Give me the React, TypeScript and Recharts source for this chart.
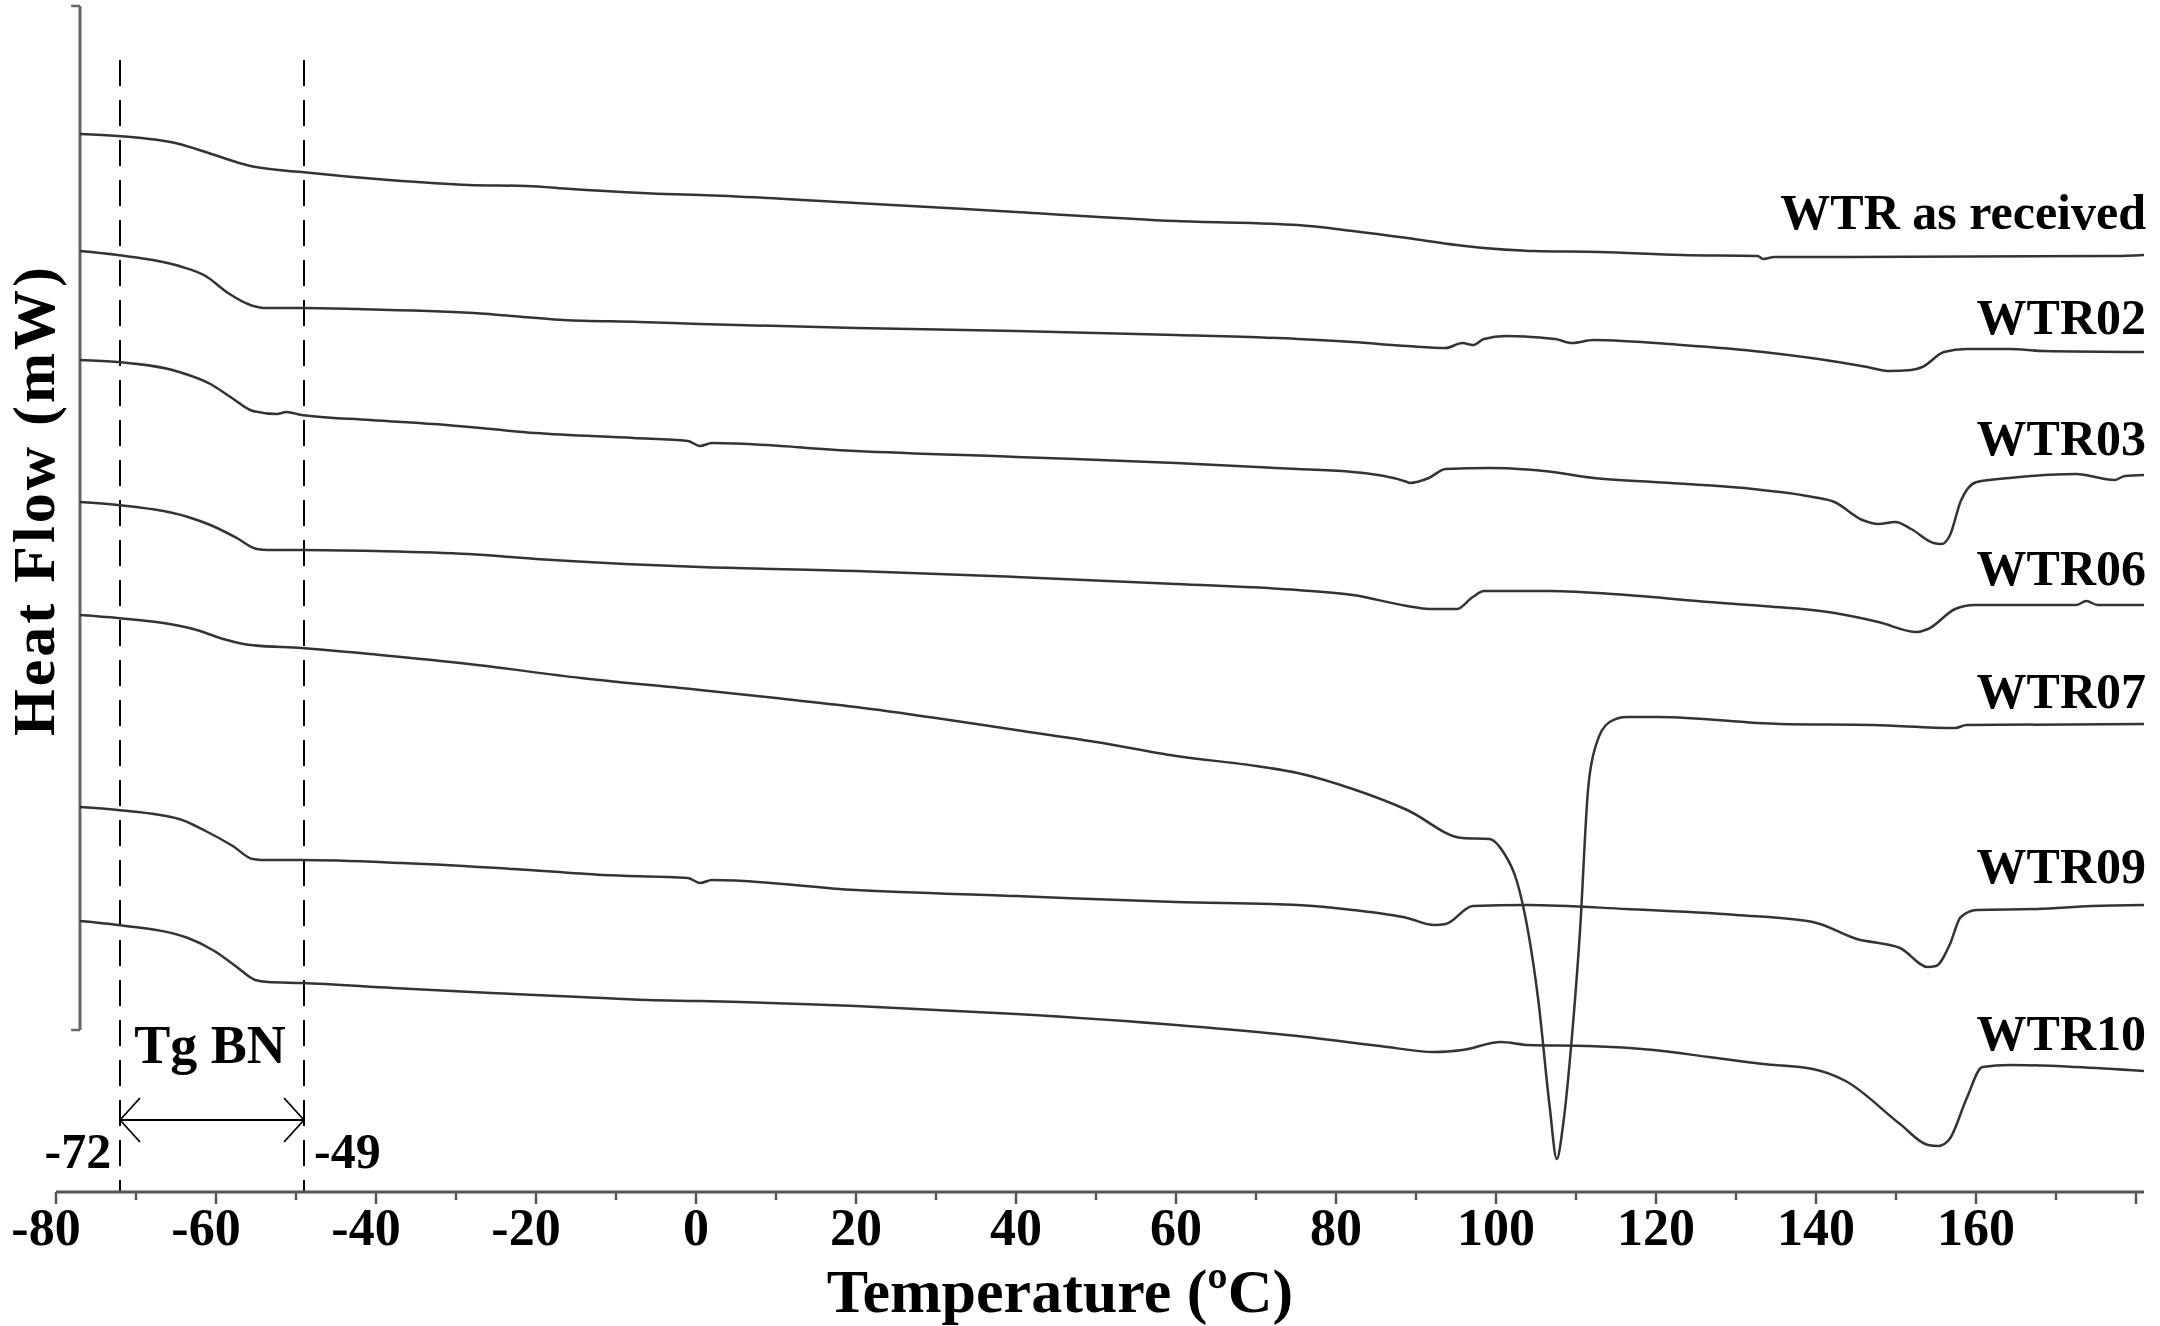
import React from 'react';
import { LineChart, Line, XAxis, YAxis, ReferenceLine, ReferenceDot } from 'recharts';

type Pt = [number, number];

// temperature (ºC), heat flow (mW, curves stacked with offsets)
const wtrAsReceived: Pt[] = [
  [-77, 10.58], [-72.3, 10.56], [-64.6, 10.48], [-61.3, 10.4], [-57.9, 10.31], [-55.7, 10.26],
  [-49.3, 10.2], [-38.4, 10.12], [-28.4, 10.07], [-21.2, 10.06], [-15.6, 10.03], [-3.9, 9.98],
  [0.5, 9.97], [20, 9.89], [40, 9.8], [60, 9.71], [75.2, 9.67], [82.1, 9.61], [88.9, 9.54],
  [95.1, 9.47], [98.5, 9.44], [104.7, 9.41], [112.9, 9.4], [123.2, 9.37], [132.7, 9.36],
  [133.4, 9.33], [134.8, 9.35], [143.7, 9.35], [177.3, 9.36], [181, 9.37],
];
const wtr02: Pt[] = [
  [-77, 9.41], [-72.3, 9.37], [-64.6, 9.26], [-61.3, 9.16], [-58.5, 8.99], [-55.7, 8.87],
  [-54, 8.84], [-49.3, 8.84], [-42.3, 8.83], [-27.8, 8.79], [-16.6, 8.72], [-7.1, 8.7],
  [0.5, 8.68], [20, 8.64], [40, 8.61], [60, 8.57], [75.2, 8.53], [82.1, 8.5], [88.9, 8.46],
  [93.7, 8.44], [95.8, 8.49], [97.1, 8.47], [98.5, 8.53], [101.2, 8.56], [107.4, 8.53],
  [109.5, 8.49], [112.2, 8.52], [123.2, 8.47], [133.4, 8.4], [140.3, 8.33], [146.4, 8.25],
  [149.2, 8.21], [151.9, 8.22], [153.3, 8.25], [156, 8.4], [158.8, 8.43], [164.2, 8.43],
  [168.4, 8.41], [181, 8.4],
];
const wtr03: Pt[] = [
  [-77, 8.32], [-72.3, 8.3], [-64.6, 8.2], [-60.7, 8.08], [-58, 7.94], [-55.4, 7.81],
  [-52.4, 7.78], [-51.2, 7.8], [-49.3, 7.77], [-40.7, 7.72], [-31.2, 7.67], [-20.1, 7.59],
  [-7.8, 7.54], [-1, 7.51], [0.5, 7.46], [2, 7.49], [20, 7.41], [40, 7.35], [60, 7.29],
  [75.2, 7.23], [82.1, 7.2], [88.9, 7.1], [89.2, 7.09], [91.6, 7.14], [93.7, 7.23],
  [99.2, 7.24], [106, 7.21], [112.2, 7.14], [119.7, 7.1], [125.9, 7.07], [132.1, 7.03],
  [139.6, 6.95], [142.3, 6.9], [145.8, 6.72], [147.8, 6.68], [149.9, 6.7], [151.9, 6.63],
  [154.7, 6.49], [155.7, 6.48], [156.7, 6.56], [158.1, 6.91], [160.1, 7.1], [164.2, 7.14],
  [172.5, 7.18], [177.3, 7.12], [178.6, 7.16], [181, 7.17],
];
const wtr06: Pt[] = [
  [-77, 6.9], [-72.3, 6.87], [-63.5, 6.75], [-60.7, 6.67], [-57.4, 6.54], [-54.9, 6.43],
  [-53.5, 6.42], [-49.3, 6.42], [-40.1, 6.41], [-28.4, 6.38], [-20, 6.33], [-8.9, 6.28],
  [0.5, 6.25], [20, 6.21], [40, 6.15], [60, 6.08], [75.2, 6.02], [82.1, 5.97], [88.9, 5.86],
  [91.6, 5.83], [95.1, 5.83], [97.1, 5.95], [98.5, 6.01], [106.7, 6.01], [116.3, 5.97],
  [126.6, 5.9], [133.4, 5.86], [142.3, 5.79], [147.8, 5.7], [152.6, 5.6], [154, 5.63],
  [157.4, 5.83], [159.8, 5.87], [172.5, 5.87], [173.8, 5.91], [175.2, 5.87], [181, 5.87],
];
const wtr07: Pt[] = [
  [-77, 5.77], [-72.3, 5.74], [-65.8, 5.68], [-62.4, 5.62], [-59.1, 5.53], [-55.7, 5.47],
  [-49.3, 5.44], [-39.5, 5.37], [-28.4, 5.28], [-14.4, 5.14], [0.5, 5.02], [10, 4.94],
  [20, 4.85], [30, 4.74], [40, 4.62], [50, 4.5], [60, 4.36], [70, 4.26], [75.2, 4.19],
  [82.1, 4.03], [88.9, 3.82], [95.8, 3.54], [99.2, 3.53], [100.9, 3.4], [102.6, 3.11],
  [104, 2.61], [105.3, 1.91], [106.7, 0.86], [107.6, 0.33], [108.4, 0.68], [109.5, 1.56],
  [110.5, 2.61], [111.5, 4.02], [112.5, 4.47], [114.2, 4.7], [116.3, 4.75], [120.4, 4.75],
  [135.5, 4.68], [147.1, 4.67], [157.4, 4.64], [158.8, 4.67], [181, 4.68],
];
const wtr09: Pt[] = [
  [-77, 3.85], [-72.3, 3.82], [-64.6, 3.73], [-61.3, 3.61], [-57.9, 3.46], [-55.4, 3.33],
  [-53.5, 3.32], [-49.3, 3.32], [-36.8, 3.29], [-22.8, 3.23], [-11.7, 3.17], [-1, 3.14],
  [0.5, 3.09], [2, 3.12], [20, 3.02], [40, 2.96], [60, 2.9], [75.2, 2.87], [82.1, 2.82],
  [88.9, 2.74], [92.3, 2.67], [93.7, 2.68], [97.1, 2.86], [104, 2.87], [116.3, 2.83],
  [130, 2.77], [139.6, 2.7], [145.1, 2.53], [150.5, 2.44], [154, 2.25], [155, 2.26],
  [156.7, 2.47], [158.1, 2.75], [160.1, 2.82], [167.7, 2.83], [174.5, 2.86], [181, 2.87],
];
const wtr10: Pt[] = [
  [-77, 2.71], [-72.3, 2.67], [-63.5, 2.54], [-60.2, 2.41], [-57.4, 2.25], [-55.1, 2.12],
  [-53.5, 2.1], [-49.3, 2.09], [-37.9, 2.04], [-25.6, 1.99], [-14.4, 1.95], [-6.1, 1.92],
  [0.5, 1.91], [20, 1.86], [40, 1.78], [60, 1.67], [75.2, 1.56], [85.5, 1.46], [92.3, 1.4],
  [95.8, 1.42], [100.6, 1.5], [104, 1.47], [111.5, 1.46], [119.7, 1.42], [126.6, 1.35],
  [133.4, 1.28], [139.6, 1.23], [143.7, 1.11], [150.5, 0.68], [154, 0.47], [155.3, 0.46],
  [156.7, 0.53], [158.8, 0.93], [160.8, 1.25], [164.2, 1.27], [172.5, 1.25], [181, 1.21],
];

const seriesNames = ['WTR as received', 'WTR02', 'WTR03', 'WTR06', 'WTR07', 'WTR09', 'WTR10'];
const seriesValues = [wtrAsReceived, wtr02, wtr03, wtr06, wtr07, wtr09, wtr10];
const labelLevels = [9.63, 8.58, 7.37, 6.07, 4.84, 3.09, 1.42];

const xTicks = [-80, -70, -60, -50, -40, -30, -20, -10, 0, 10, 20, 30, 40, 50, 60, 70, 80, 90, 100, 110, 120, 130, 140, 150, 160, 170, 180];
const tgOnset = -72;
const tgEnd = -49;

const FONT = '"Liberation Serif", "Times New Roman", serif';
const INK = '#000';
const AXIS = '#555';
const CURVE = '#333';

const series = seriesValues.map((pts) => pts.map(([t, hf]) => ({ t, hf })));

const TempTick = (props: any) => {
  const { x, y, payload } = props;
  const v = payload.value;
  const major = v % 20 === 0;
  return (
    <g>
      <line x1={x} x2={x} y1={y} y2={y + (major ? 12 : 8)} stroke={AXIS} strokeWidth={2.5} />
      {major && v <= 160 && (
        <text x={x + (v < 0 ? -10 : 0)} y={y + 53} textAnchor="middle" fontFamily={FONT} fontWeight="bold" fontSize={52} fill={INK}>
          {v}
        </text>
      )}
    </g>
  );
};

const xTitle = (props: any) => {
  const { x, y, width } = props.viewBox;
  return (
    <text x={x + width / 2 - 40} y={y + 120} textAnchor="middle" fontFamily={FONT} fontWeight="bold" fontSize={62} fill={INK}>
      Temperature (ºC)
    </text>
  );
};

const note = (text: string, anchor: 'start' | 'middle' | 'end', size: number, dx = 0, rotate = 0, spacing = 0) => (props: any) => {
  const { x, y } = props.viewBox;
  const px = x + dx;
  return (
    <text
      x={px}
      y={y}
      transform={rotate ? `rotate(${rotate}, ${px}, ${y})` : undefined}
      textAnchor={anchor}
      fontFamily={FONT}
      fontWeight="bold"
      fontSize={size}
      letterSpacing={spacing || undefined}
      fill={INK}
    >
      {text}
    </text>
  );
};

const App: React.FC = () => {
  const arrowY = 0.72;
  return (
    <div style={{ position: 'absolute', left: 0, top: 0, background: '#fff' }}>
      <LineChart width={2160} height={1326} margin={{ top: 6, right: 16, bottom: 0, left: 56 }}>
        <XAxis
          type="number"
          dataKey="t"
          domain={[-80, 181]}
          ticks={xTicks}
          interval={0}
          allowDataOverflow
          height={134}
          tickSize={0}
          tickMargin={0}
          tickLine={false}
          axisLine={{ stroke: AXIS, strokeWidth: 3 }}
          tick={<TempTick />}
          label={xTitle}
        />
        <YAxis type="number" domain={[0, 11.86]} allowDataOverflow hide />

        {/* heat flow axis */}
        <ReferenceLine segment={[{ x: -77, y: 11.86 }, { x: -77, y: 1.62 }]} stroke="#666" strokeWidth={3} ifOverflow="visible" />
        <ReferenceLine segment={[{ x: -78.1, y: 11.86 }, { x: -77, y: 11.86 }]} stroke="#666" strokeWidth={2.5} ifOverflow="visible" />
        <ReferenceLine segment={[{ x: -78.1, y: 1.62 }, { x: -77, y: 1.62 }]} stroke="#666" strokeWidth={2.5} ifOverflow="visible" />
        <ReferenceDot x={-80} y={6.92} r={0} fill="none" stroke="none" ifOverflow="visible" label={note('Heat Flow (mW)', 'middle', 60, -2, -90, 3)} />

        {/* Tg markers */}
        <ReferenceLine segment={[{ x: tgOnset, y: 11.32 }, { x: tgOnset, y: 0 }]} stroke={INK} strokeWidth={2} strokeDasharray="26 14" ifOverflow="visible" />
        <ReferenceLine segment={[{ x: tgEnd, y: 11.32 }, { x: tgEnd, y: 0 }]} stroke={INK} strokeWidth={2} strokeDasharray="26 14" ifOverflow="visible" />
        <ReferenceLine segment={[{ x: tgOnset, y: arrowY }, { x: tgEnd, y: arrowY }]} stroke={INK} strokeWidth={2} ifOverflow="visible" />
        <ReferenceLine segment={[{ x: tgOnset, y: arrowY }, { x: tgOnset + 2.5, y: arrowY + 0.22 }]} stroke={INK} strokeWidth={1.8} ifOverflow="visible" />
        <ReferenceLine segment={[{ x: tgOnset, y: arrowY }, { x: tgOnset + 2.5, y: arrowY - 0.22 }]} stroke={INK} strokeWidth={1.8} ifOverflow="visible" />
        <ReferenceLine segment={[{ x: tgEnd, y: arrowY }, { x: tgEnd - 2.5, y: arrowY + 0.22 }]} stroke={INK} strokeWidth={1.8} ifOverflow="visible" />
        <ReferenceLine segment={[{ x: tgEnd, y: arrowY }, { x: tgEnd - 2.5, y: arrowY - 0.22 }]} stroke={INK} strokeWidth={1.8} ifOverflow="visible" />

        {series.map((d, i) => (
          <Line
            key={seriesNames[i]}
            data={d}
            dataKey="hf"
            name={seriesNames[i]}
            type="monotone"
            stroke={CURVE}
            strokeWidth={2.5}
            dot={false}
            activeDot={false}
            isAnimationActive={false}
          />
        ))}

        {seriesNames.map((name, i) => (
          <ReferenceDot key={`lbl-${name}`} x={181} y={labelLevels[i]} r={0} fill="none" stroke="none" ifOverflow="visible" label={note(name, 'end', 50, 2)} />
        ))}
        <ReferenceDot x={-60.75} y={1.29} r={0} fill="none" stroke="none" ifOverflow="visible" label={note('Tg BN', 'middle', 54)} />
        <ReferenceDot x={-73.1} y={0.24} r={0} fill="none" stroke="none" ifOverflow="visible" label={note(String(tgOnset), 'end', 50)} />
        <ReferenceDot x={-47.75} y={0.24} r={0} fill="none" stroke="none" ifOverflow="visible" label={note(String(tgEnd), 'start', 50)} />
      </LineChart>
    </div>
  );
};

export default App;
